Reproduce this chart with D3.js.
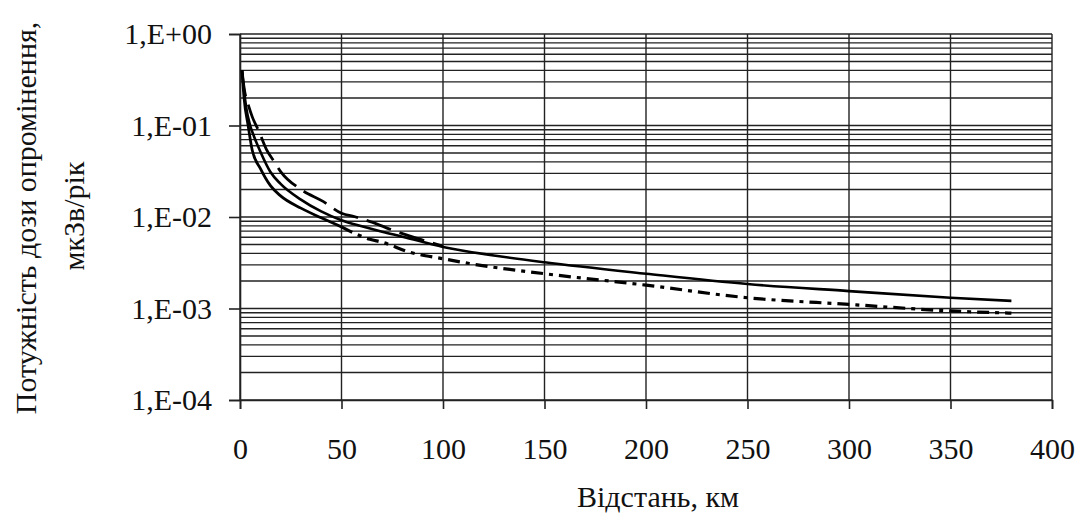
<!DOCTYPE html>
<html>
<head>
<meta charset="utf-8">
<script src="https://cdn.jsdelivr.net/npm/d3@7"></script>
<style>
  body { margin: 0; background: #fff; }
  svg text { font-family: "Times New Roman", Times, "Liberation Serif", Tinos, "Noto Serif", "DejaVu Serif", serif; fill: #111; }
</style>
</head>
<body>
<svg id="chart" width="1082" height="520"></svg>
<script>
// відстань, км
var distA = [1, 2, 3, 5, 7, 10, 15, 20, 30, 40, 50, 60, 70, 80, 100, 125, 150, 200, 250, 300, 350, 380];
// суцільна лінія
var doseA = [0.40, 0.24, 0.16, 0.10, 0.075, 0.052, 0.031, 0.023, 0.0155, 0.0115, 0.0092, 0.0079, 0.0069, 0.0061, 0.0047, 0.0038, 0.0032, 0.0024, 0.00185, 0.00155, 0.00131, 0.00121];

// нижня штрихова
var distB = [1, 2, 4, 6, 10, 15, 20, 30, 40, 50, 64, 70, 84, 100, 113, 150, 200, 250, 300, 350, 380];
var doseB = [0.40, 0.20, 0.10, 0.054, 0.034, 0.022, 0.017, 0.0125, 0.0098, 0.0078, 0.0057, 0.0053, 0.0041, 0.0035, 0.0031, 0.0024, 0.0018, 0.00131, 0.00111, 0.00094, 0.00089];

// верхня штрихова (зливається з суцільною)
var distC = [1, 2, 4.4, 6, 9.4, 13, 16.3, 20.2, 30, 40.9, 50, 57, 65, 75, 90, 100];
var doseC = [0.40, 0.26, 0.16, 0.125, 0.0855, 0.055, 0.042, 0.031, 0.020, 0.0148, 0.0110, 0.0100, 0.0088, 0.0072, 0.0056, 0.0048];

var xTicks = [0, 50, 100, 150, 200, 250, 300, 350, 400];
var yTicks = [1e-4, 1e-3, 1e-2, 1e-1, 1];

var serif = "'Times New Roman', Times, 'Liberation Serif', Tinos, 'Noto Serif', 'DejaVu Serif', serif";

var s = d3.select("#chart");
var padding = {top: 34, right: 30, bottom: 120, left: 240};
var width = +s.attr("width");
var height = +s.attr("height");

var x = d3.scaleLinear().domain([0, 400]).range([padding.left, width - padding.right]);
var y = d3.scaleLog().domain([1e-4, 1]).range([height - padding.bottom, padding.top]);

//сітка
var g = s.append("g");
g.selectAll("line.hgrid")
	.data(y.ticks())
	.enter().append("line")
	.attr("class", "hgrid")
	.attr("x1", x(0)).attr("x2", x(400))
	.attr("y1", function(d){ return y(d); })
	.attr("y2", function(d){ return y(d); })
	.attr("stroke", "#222")
	.attr("stroke-width", 1.4);

g.selectAll("line.vgrid")
	.data(xTicks)
	.enter().append("line")
	.attr("class", "vgrid")
	.attr("x1", function(d){ return x(d); })
	.attr("x2", function(d){ return x(d); })
	.attr("y1", y(1)).attr("y2", y(1e-4))
	.attr("stroke", "#222")
	.attr("stroke-width", 1.4);

//осі
function fmt(d){
	var e = Math.round(Math.log10(d));
	var a = Math.abs(e);
	return "1,E" + (e >= 0 ? "+" : "-") + (a < 10 ? "0" : "") + a;
}

var yAxis = s.append("g")
	.attr("transform", "translate(" + x(0) + ",0)")
	.call(d3.axisLeft(y).tickValues(yTicks).tickFormat(fmt).tickSize(11).tickPadding(17));
var xAxis = s.append("g")
	.attr("transform", "translate(0," + y(1e-4) + ")")
	.call(d3.axisBottom(x).tickValues(xTicks).tickSize(9).tickPadding(29));

[yAxis, xAxis].forEach(function(a){
	a.attr("font-family", serif);
	a.select(".domain").attr("stroke", "#222").attr("stroke-width", 1.6);
	a.selectAll(".tick line").attr("stroke", "#222").attr("stroke-width", 1.6);
	a.selectAll(".tick text")
		.attr("fill", "#111")
		.style("font-family", serif)
		.style("font-size", "30px");
});

//криві
var line = d3.line()
	.x(function(d){ return x(d[0]); })
	.y(function(d){ return y(d[1]); })
	.curve(d3.curveMonotoneX);

function pairs(ds, vs){
	return ds.map(function(d, i){ return [d, vs[i]]; });
}

var A = pairs(distA, doseA);
var B = pairs(distB, doseB);
var C = pairs(distC, doseC);

s.append("path")
	.attr("d", line(A))
	.attr("fill", "none")
	.attr("stroke", "#000")
	.attr("stroke-width", 2.6);

s.append("path")
	.attr("d", line(B.filter(function(d){ return d[0] <= 50; })))
	.attr("fill", "none")
	.attr("stroke", "#000")
	.attr("stroke-width", 2.8);

s.append("path")
	.attr("d", line(B.filter(function(d){ return d[0] >= 50; })))
	.attr("fill", "none")
	.attr("stroke", "#000")
	.attr("stroke-width", 3.2)
	.attr("stroke-dasharray", "12,6,4,6");

s.append("path")
	.attr("d", line(C))
	.attr("fill", "none")
	.attr("stroke", "#000")
	.attr("stroke-width", 2.8)
	.attr("stroke-dasharray", "26,9");

//підписи осей
s.append("text")
	.attr("transform", "translate(36,218) rotate(-90)")
	.style("text-anchor", "middle")
	.style("font-family", serif)
	.style("font-size", "30px")
	.text("Потужність дози опромінення,");
s.append("text")
	.attr("transform", "translate(84,216) rotate(-90)")
	.style("text-anchor", "middle")
	.style("font-family", serif)
	.style("font-size", "30px")
	.text("мкЗв/рік");
s.append("text")
	.attr("x", 658)
	.attr("y", 507)
	.style("text-anchor", "middle")
	.style("font-family", serif)
	.style("font-size", "30px")
	.text("Відстань, км");
</script>
</body>
</html>
